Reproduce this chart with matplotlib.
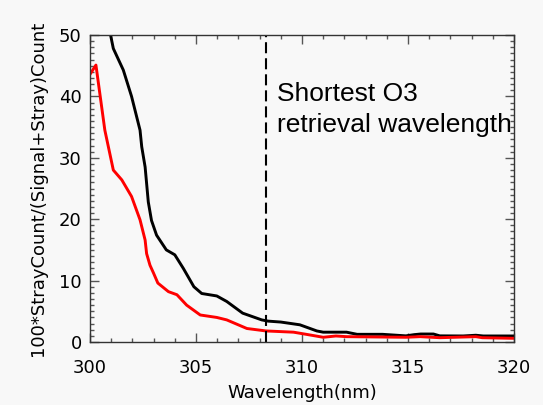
import numpy as np
import matplotlib
matplotlib.use("Agg")
import matplotlib.pyplot as plt
from matplotlib.ticker import MultipleLocator

# black curve
wl_black = [300.8, 300.97, 301.1, 301.57, 301.96, 302.36, 302.44, 302.6, 302.75, 302.9,
            303.14, 303.6, 304.0, 304.4, 304.9, 305.27, 305.98, 306.45, 307.2, 308.1,
            308.4, 309.0, 309.3, 309.9, 310.7, 311.0, 312.1, 312.6, 313.8, 314.9,
            315.3, 315.6, 316.2, 316.5, 317.6, 318.2, 318.55, 320.0]
val_black = [53.0, 50.0, 47.8, 44.3, 40.0, 34.5, 31.8, 28.5, 22.8, 19.8,
             17.4, 15.0, 14.2, 12.0, 9.0, 7.9, 7.5, 6.6, 4.7, 3.6,
             3.4, 3.25, 3.1, 2.8, 1.8, 1.6, 1.6, 1.25, 1.25, 1.0,
             1.2, 1.3, 1.3, 1.0, 0.98, 1.1, 0.98, 0.98]

# red curve
wl_red = [300.0, 300.28, 300.7, 301.1, 301.5, 301.96, 302.36, 302.6, 302.67, 302.83,
          303.0, 303.2, 303.7, 304.1, 304.56, 305.2, 305.98, 306.45, 307.4, 308.3,
          309.6, 310.2, 311.0, 311.6, 312.1, 314.9, 315.57, 316.5, 318.2, 318.5, 320.0]
val_red = [43.6, 45.1, 34.5, 28.0, 26.4, 23.7, 19.9, 16.6, 14.4, 12.5,
           11.2, 9.6, 8.2, 7.7, 6.0, 4.4, 4.0, 3.6, 2.2, 1.8,
           1.6, 1.25, 0.77, 0.98, 0.87, 0.77, 0.87, 0.7, 0.87, 0.7, 0.6]

o3_cut = 308.3
note = ["Shortest O3", "retrieval wavelength"]

bg = "#f8f8f8"
fig = plt.figure(figsize=(5.43, 4.05), dpi=100, facecolor=bg)
ax = fig.add_axes([90/543, 1-342/405, 424/543, 307/405], facecolor=bg)

ax.plot(wl_black, val_black, color="black", lw=2.1)
ax.plot(wl_red, val_red, color="red", lw=2.1)
ax.axvline(o3_cut, color="black", lw=1.5, dashes=(5.3, 2.4))

ax.text(308.8, 39.3, note[0], fontsize=19, family="Liberation Sans", va="baseline")
ax.text(308.8, 34.25, note[1], fontsize=19, family="Liberation Sans", va="baseline")

ax.set_xlim(300, 320)
ax.set_ylim(0, 50)
ax.xaxis.set_major_locator(MultipleLocator(5))
ax.xaxis.set_minor_locator(MultipleLocator(1))
ax.yaxis.set_major_locator(MultipleLocator(10))
ax.yaxis.set_minor_locator(MultipleLocator(1))
ax.tick_params(which="both", direction="in", top=True, right=True, color="#555555",
               labelsize=13)
ax.tick_params(which="major", length=6.5, width=1)
ax.tick_params(which="minor", length=3, width=1)
ax.tick_params(axis="x", pad=12)
ax.tick_params(axis="y", pad=6)
for s in ax.spines.values():
    s.set_color("#333333")
    s.set_linewidth(1)

ax.set_xlabel("Wavelength(nm)", fontsize=13, labelpad=5)
ax.set_ylabel("100*StrayCount/(Signal+Stray)Count", fontsize=13)
ax.yaxis.set_label_coords(-0.102, 0.5)

fig.canvas.draw()
ylabels = ax.get_yticklabels()
ylabels[0].set_va("bottom")
ylabels[-1].set_va("top")

fig.savefig("out.png", dpi=100, facecolor=bg)
